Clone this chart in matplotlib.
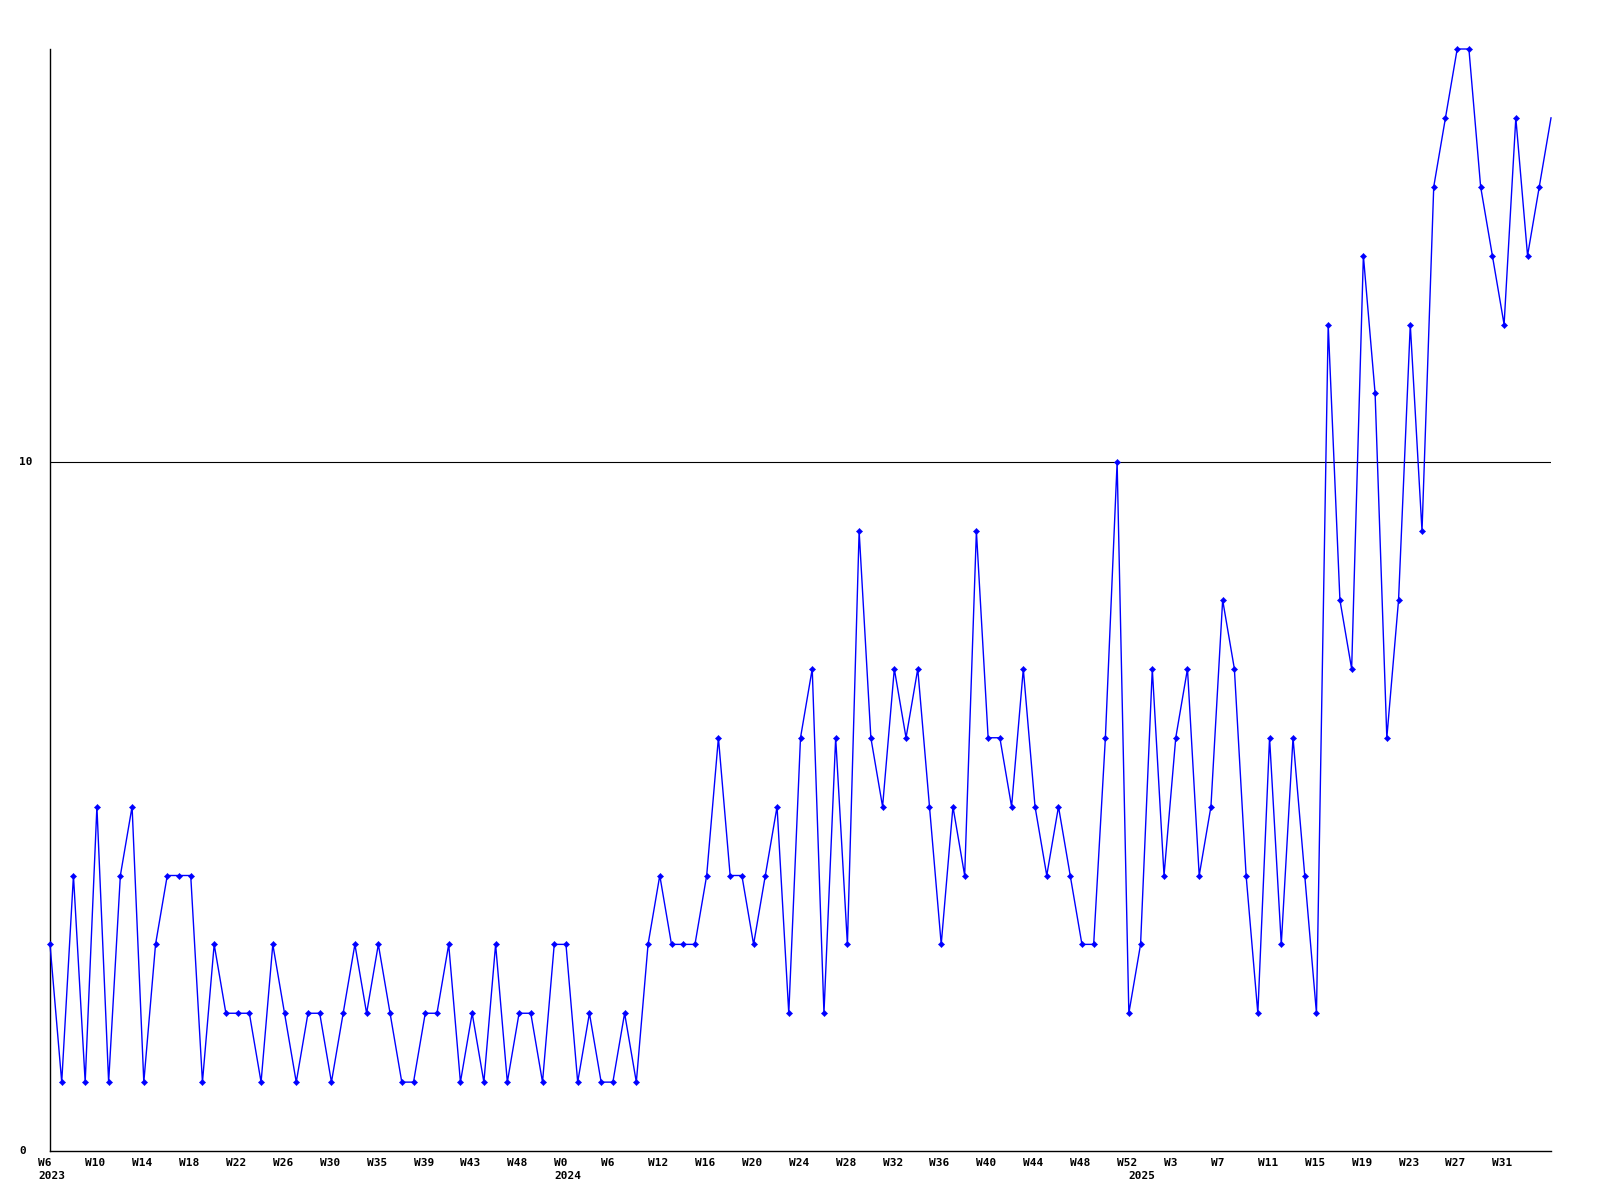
import matplotlib
matplotlib.use("Agg")
import matplotlib.pyplot as plt
from matplotlib.transforms import blended_transform_factory

# weekly values (W6 2023 onward)
values = [
    3, 1, 4, 1, 5, 1, 4, 5, 1, 3,
    4, 4, 4, 1, 3, 2, 2, 2, 1, 3,
    2, 1, 2, 2, 1, 2, 3, 2, 3, 2,
    1, 1, 2, 2, 3, 1, 2, 1, 3, 1,
    2, 2, 1, 3, 3, 1, 2, 1, 1, 2,
    1, 3, 4, 3, 3, 3, 4, 6, 4, 4,
    3, 4, 5, 2, 6, 7, 2, 6, 3, 9,
    6, 5, 7, 6, 7, 5, 3, 5, 4, 9,
    6, 6, 5, 7, 5, 4, 5, 4, 3, 3,
    6, 10, 2, 3, 7, 4, 6, 7, 4, 5,
    8, 7, 4, 2, 6, 3, 6, 4, 2, 12,
    8, 7, 13, 11, 6, 8, 12, 9, 14, 15,
    16, 16, 14, 13, 12, 15, 13, 14, 15,
]

week_labels = ["W6", "W10", "W14", "W18", "W22", "W26", "W30", "W35", "W39", "W43",
               "W48", "W0", "W6", "W12", "W16", "W20", "W24", "W28", "W32", "W36",
               "W40", "W44", "W48", "W52", "W3", "W7", "W11", "W15", "W19", "W23",
               "W27", "W31"]
year_labels = ["2023", "2024", "2025"]
year_pos = [-1.0, 43.0, 92.0]   # left edge of year text, in week index units
ytick_vals = [0, 10]

W, H = 1600, 1200
fig = plt.figure(figsize=(16, 12), dpi=100)
fig.patch.set_facecolor("white")
left, right, top, bottom = 50, 1551, 49, 1151
ax = fig.add_axes([left / W, 1 - bottom / H, (right - left) / W, (bottom - top) / H])

x = list(range(len(values)))
ax.plot(x, values, color="#0000ff", lw=1.0, marker="D", ms=3.2, mew=0.3,
        mec="#0000ff", mfc="#0000ff",
        markevery=list(range(len(values) - 1)), clip_on=False, zorder=3)

ax.set_xlim(0, len(values) - 1)
ax.set_ylim(0, 16)
ax.axhline(10, color="black", lw=0.8, zorder=2)

for s in ["top", "right"]:
    ax.spines[s].set_visible(False)
for s in ["left", "bottom"]:
    ax.spines[s].set_color("black")
    ax.spines[s].set_linewidth(1.0)
ax.set_xticks([])
ax.set_yticks([])

font = dict(family="DejaVu Sans Mono", fontweight="bold", fontsize=8, color="black")

tx = blended_transform_factory(ax.transData, fig.transFigure)
for k, lab in enumerate(week_labels):
    fig.text(4 * k - 1.0, 1 - 1163 / H, lab, transform=tx, ha="left", va="center", **font)
for pos, lab in zip(year_pos, year_labels):
    fig.text(pos, 1 - 1176 / H, lab, transform=tx, ha="left", va="center", **font)

ty = blended_transform_factory(fig.transFigure, ax.transData)
for v in ytick_vals:
    fig.text(19.5 / W, v, str(v), transform=ty, ha="left", va="center", **font)

fig.savefig("out.png", dpi=100, facecolor="white")
